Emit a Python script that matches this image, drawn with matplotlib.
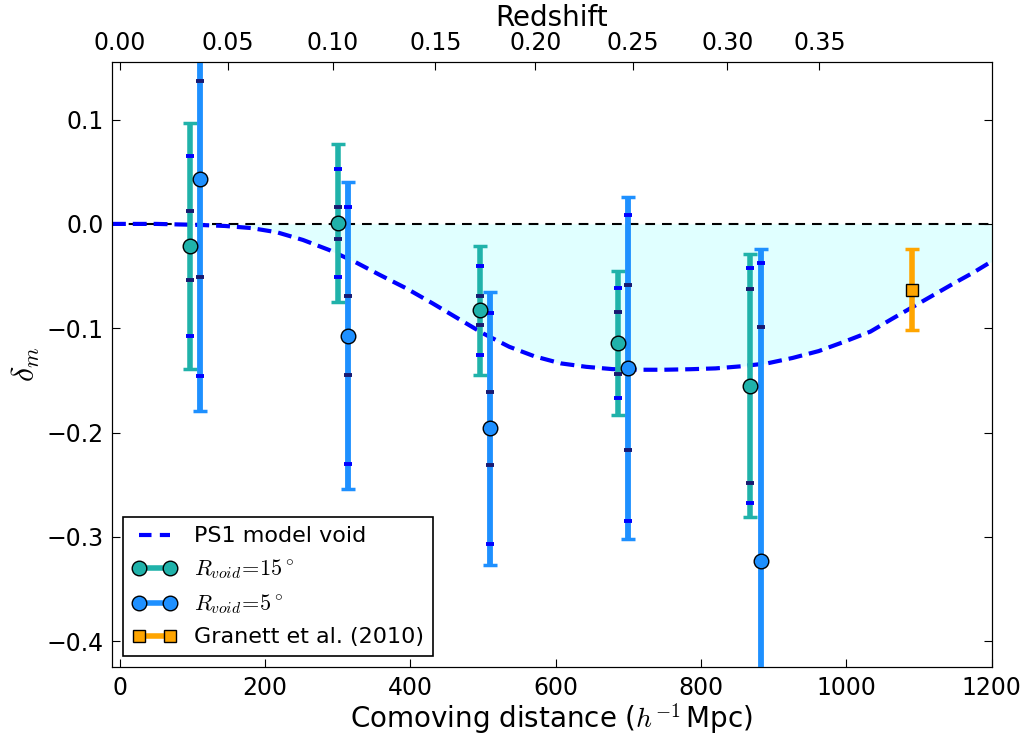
import numpy as np
import matplotlib
matplotlib.use('Agg')
import matplotlib.pyplot as plt
from matplotlib.lines import Line2D

plt.rcParams['mathtext.fontset'] = 'cm'
plt.rcParams['lines.scale_dashes'] = False

# PS1 model void profile
model_x = [-11, 50, 110, 145, 181, 216, 252, 288, 323, 358, 394, 430, 465,
           500, 536, 571, 607, 642, 678, 713, 749, 785, 820, 855, 891, 926,
           962, 997, 1033, 1063, 1093, 1148, 1174, 1200]
model_y = [0.0, 0.0, -0.001, -0.002, -0.004, -0.008, -0.0154, -0.025,
           -0.0362, -0.049, -0.0617, -0.076, -0.0905, -0.105, -0.1178,
           -0.127, -0.1337, -0.137, -0.1392, -0.1398, -0.1398, -0.1393,
           -0.1385, -0.1365, -0.1337, -0.1285, -0.1219, -0.113, -0.1033,
           -0.091, -0.079, -0.057, -0.047, -0.036]

# R_void = 15 deg
r15_x = [97, 300, 496, 685, 868]
r15_y = [-0.021, 0.001, -0.083, -0.114, -0.155]
r15_err_cap = [0.118, 0.076, 0.062, 0.069, 0.126]
r15_err_2 = [0.086, 0.052, 0.043, 0.053, 0.113]
r15_err_1 = [0.033, 0.015, 0.014, 0.030, 0.093]

# R_void = 5 deg
r5_x = [110, 314, 510, 700, 882]
r5_y = [0.043, -0.107, -0.196, -0.138, -0.323]
r5_err_cap = [0.222, 0.147, 0.131, 0.164, 0.299]
r5_err_2 = [0.189, 0.123, 0.111, 0.147, 0.286]
r5_err_1 = [0.094, 0.038, 0.035, 0.079, 0.224]

# Granett et al. (2010)
gr_x = [1090]
gr_y = [-0.063]
gr_err = [0.039]

z_ticks = [0.00, 0.05, 0.10, 0.15, 0.20, 0.25, 0.30, 0.35]

teal = '#20B2AA'
dblue = '#1E90FF'
orange = '#FFA500'


def comoving(z, om=0.3):
    zz = np.linspace(0, z, 400)
    return 2997.92 * np.trapezoid(1.0 / np.sqrt(om * (1 + zz) ** 3 + 1 - om), zz)


fig = plt.figure(figsize=(10.3, 7.37), dpi=100)
ax = fig.add_axes([0.1087, 0.0946, 0.854, 0.821])

ax.fill_between(model_x, model_y, 0, color='#E0FFFF', lw=0, zorder=1)
ax.axhline(0, color='k', lw=1.5, dashes=(7, 5), zorder=2)
ax.plot(model_x, model_y, color='#0000FF', lw=3, dashes=(10, 5), zorder=2)


def draw_set(x, y, ecap, e2, e1, color, lw):
    x = np.array(x)
    y = np.array(y)
    ax.errorbar(x, y, yerr=ecap, fmt='none', ecolor=color, elinewidth=lw,
                capsize=5, capthick=2.5, zorder=3)
    e1 = np.array(e1)
    e2 = np.array(e2)
    for yy in (y + e1, y - e1):
        ax.plot(x, yy, ls='none', marker='_', ms=5.5, mew=2.8,
                color='#191970', zorder=4)
    for yy in (y + e2, y - e2):
        ax.plot(x, yy, ls='none', marker='_', ms=5.5, mew=2.8,
                color='#0000FF', zorder=4)
    ax.plot(x, y, ls='none', marker='o', ms=10.5, mfc=color, mec='k',
            mew=1, zorder=6)


draw_set(r15_x, r15_y, r15_err_cap, r15_err_2, r15_err_1, teal, 4)
draw_set(r5_x, r5_y, r5_err_cap, r5_err_2, r5_err_1, dblue, 4.2)

ax.errorbar(gr_x, gr_y, yerr=gr_err, fmt='none', ecolor=orange,
            elinewidth=4, capsize=5, capthick=2.5, zorder=3)
ax.plot(gr_x, gr_y, ls='none', marker='s', ms=9, mfc=orange, mec='k',
        mew=1, zorder=6)

ax.set_xlim(-11, 1200)
ax.set_ylim(-0.425, 0.155)
ax.set_xticks([0, 200, 400, 600, 800, 1000, 1200])
ax.set_yticks([-0.4, -0.3, -0.2, -0.1, 0.0, 0.1])
ax.tick_params(direction='in', length=6, labelsize=17, right=True, top=False,
               pad=6)
ax.set_xlabel(r'Comoving distance ($h^{-1}\,$Mpc)', fontsize=20, labelpad=1)
ax.set_ylabel(r'$\delta_m$', fontsize=23)
ax.yaxis.set_label_coords(-0.08, 0.5)

ax2 = ax.twiny()
ax2.set_xlim(ax.get_xlim())
ax2.set_xticks([comoving(z) for z in z_ticks])
ax2.set_xticklabels(['%.2f' % z for z in z_ticks])
ax2.tick_params(direction='in', length=6, labelsize=17, pad=5)
ax2.set_xlabel('Redshift', fontsize=20, labelpad=4)

handles = [
    Line2D([], [], color='#0000FF', lw=3, dashes=(9, 6)),
    Line2D([], [], color=teal, lw=4, marker='o', ms=10.5, mfc=teal, mec='k', mew=1),
    Line2D([], [], color=dblue, lw=4, marker='o', ms=10.5, mfc=dblue, mec='k', mew=1),
    Line2D([], [], color=orange, lw=4, marker='s', ms=9, mfc=orange, mec='k', mew=1),
]
labels = ['PS1 model void', r'$R_{void}\!=\!15^\circ$',
          r'$R_{void}\!=\!5^\circ$', 'Granett et al. (2010)']
leg = ax.legend(handles, labels, loc='lower left', fontsize=16, numpoints=2,
                fancybox=False, framealpha=1, edgecolor='k',
                handlelength=2.0, labelspacing=0.5)
leg.get_frame().set_linewidth(1.2)

fig.savefig('out.png', dpi=100)
